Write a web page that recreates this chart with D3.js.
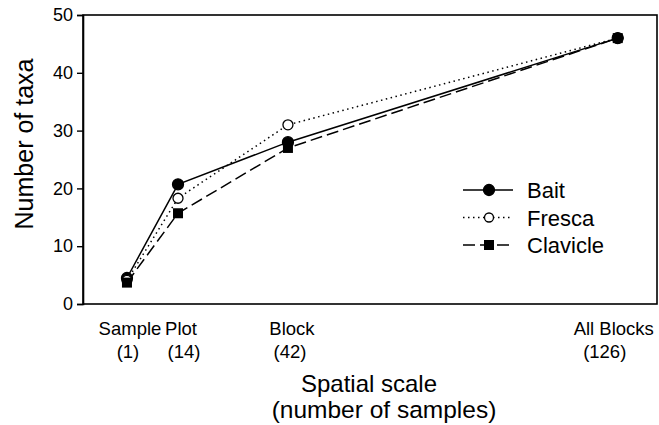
<!DOCTYPE html>
<html>
<head>
<meta charset="utf-8">
<script src="https://cdn.jsdelivr.net/npm/d3@7"></script>
<style>
  body { margin: 0; background: #fff; }
  text { font-family: "Liberation Sans", Arial, sans-serif; fill: #000; }
</style>
</head>
<body>
<div id="chart"></div>
<script>
// data
const samples = [1, 14, 42, 126];
const scaleNames = ["Sample", "Plot", "Block", "All Blocks"];
const bait = [4.5, 20.7, 28, 46];
const fresca = [4.1, 18.3, 31, 46];
const clavicle = [3.7, 15.7, 27, 46];
const yTicks = [0, 10, 20, 30, 40, 50];

// small horizontal nudges of the category labels (layout only)
const nameNudge = [3, 3, 4, -4];
const countNudge = [1, 6, 2, -13];

const width = 659, height = 425;
const margin = {left: 83, right: 2, top: 15, bottom: 121};

const svg = d3.select("#chart")
  .append("svg")
    .attr("width", width)
    .attr("height", height);

const x = d3.scaleLinear()
  .domain([-10.2, 136])
  .range([margin.left, width - margin.right]);

const y = d3.scaleLinear()
  .domain([0, 50])
  .range([height - margin.bottom, margin.top]);

// frame
svg.append("rect")
  .attr("x", x.range()[0])
  .attr("y", y.range()[1])
  .attr("width", x.range()[1] - x.range()[0])
  .attr("height", y.range()[0] - y.range()[1])
  .attr("fill", "none")
  .attr("stroke", "#000")
  .attr("stroke-width", 1.6);

// y axis
const yAxis = svg.append("g")
  .attr("transform", `translate(${margin.left},0)`)
  .call(d3.axisLeft(y).tickValues(yTicks).tickSize(6).tickPadding(4));
yAxis.select(".domain").attr("stroke-width", 1.6);
yAxis.selectAll("line").attr("stroke-width", 1.4);
yAxis.selectAll("text").attr("font-size", 18).attr("font-family", "Liberation Sans, Arial, sans-serif");

// x labels, no ticks
const xl = svg.append("g");
samples.forEach((s, i) => {
  xl.append("text")
    .attr("x", x(s) + nameNudge[i])
    .attr("y", 335)
    .attr("text-anchor", "middle")
    .attr("font-size", 18.5)
    .text(scaleNames[i]);
  xl.append("text")
    .attr("x", x(s) + countNudge[i])
    .attr("y", 358)
    .attr("text-anchor", "middle")
    .attr("font-size", 18.5)
    .text(`(${s})`);
});

// axis titles
svg.append("text")
  .attr("transform", `translate(33,144) rotate(-90)`)
  .attr("text-anchor", "middle")
  .attr("font-size", 25)
  .text("Number of taxa");

svg.append("text")
  .attr("x", 369).attr("y", 392)
  .attr("text-anchor", "middle")
  .attr("font-size", 24)
  .text("Spatial scale");
svg.append("text")
  .attr("x", 384).attr("y", 418)
  .attr("text-anchor", "middle")
  .attr("font-size", 24.5)
  .text("(number of samples)");

const series = [
  {name: "Bait", values: bait, dash: null, marker: "circle", fill: "#000", r: 5.5},
  {name: "Fresca", values: fresca, dash: "1.5,3.5", marker: "circle", fill: "#fff", r: 5},
  {name: "Clavicle", values: clavicle, dash: "12,5", marker: "square", fill: "#000", r: 5}
];

const line = d3.line()
  .x((d, i) => x(samples[i]))
  .y(d => y(d));

function marker(g, s, cx, cy, r) {
  if (s.marker === "circle") {
    g.append("circle")
      .attr("cx", cx).attr("cy", cy).attr("r", r)
      .attr("fill", s.fill).attr("stroke", "#000").attr("stroke-width", 1.3);
  } else {
    g.append("rect")
      .attr("x", cx - r).attr("y", cy - r)
      .attr("width", 2 * r).attr("height", 2 * r)
      .attr("fill", s.fill);
  }
}

series.forEach(s => {
  svg.append("path")
    .datum(s.values)
    .attr("d", line)
    .attr("fill", "none")
    .attr("stroke", "#000")
    .attr("stroke-width", 1.5)
    .attr("stroke-dasharray", s.dash);
});
series.forEach(s => {
  const g = svg.append("g");
  s.values.forEach((v, i) => marker(g, s, x(samples[i]), y(v), s.r));
});

// legend
const legend = svg.append("g").attr("transform", "translate(463,190)");
series.forEach((s, i) => {
  const g = legend.append("g").attr("transform", `translate(0,${i * 27.5})`);
  g.append("line")
    .attr("x1", 0).attr("x2", 50)
    .attr("stroke", "#000").attr("stroke-width", 1.5)
    .attr("stroke-dasharray", s.dash);
  marker(g, s, 26, 0, s.name === "Fresca" ? 4.5 : s.r);
  g.append("text")
    .attr("x", 64).attr("y", 8)
    .attr("font-size", 22)
    .text(s.name);
});
</script>
</body>
</html>
